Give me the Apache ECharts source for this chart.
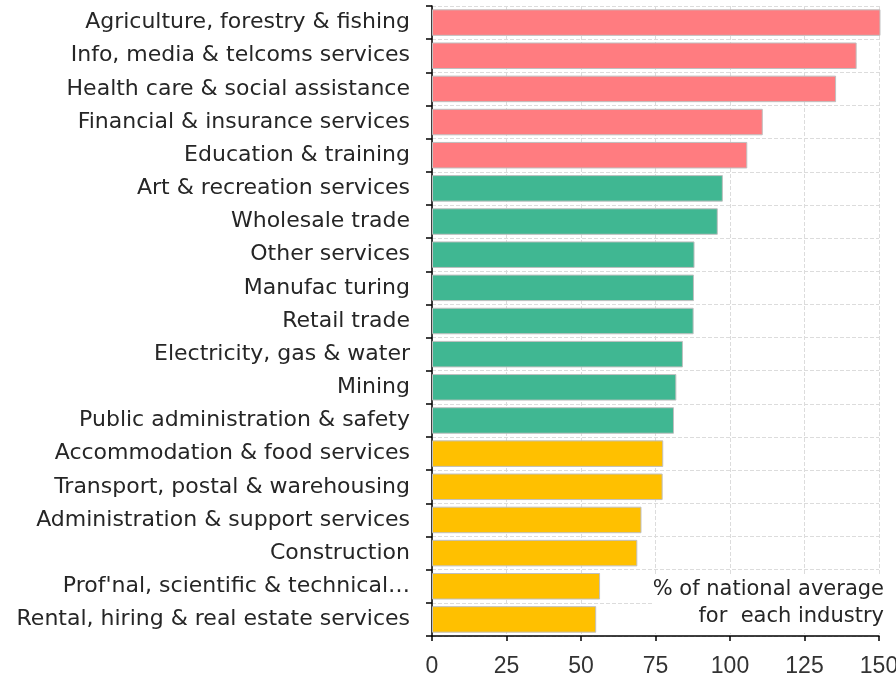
<!DOCTYPE html>
<html>
<head>
<meta charset="utf-8">
<script src="https://cdn.jsdelivr.net/npm/echarts@6/dist/echarts.min.js"></script>
<style>
  html, body { margin: 0; padding: 0; background: #ffffff; }
  #chart { width: 896px; height: 678px; }
</style>
</head>
<body>
<div id="chart"></div>
<script>
// Industries, top to bottom
const industries = [
  "Agriculture, forestry & fishing",
  "Info, media & telcoms services",
  "Health care & social assistance",
  "Financial & insurance services",
  "Education & training",
  "Art & recreation services",
  "Wholesale trade",
  "Other services",
  "Manufac turing",
  "Retail trade",
  "Electricity, gas & water",
  "Mining",
  "Public administration & safety",
  "Accommodation & food services",
  "Transport, postal & warehousing",
  "Administration & support services",
  "Construction",
  "Prof'nal, scientific & technical\u2026",
  "Rental, hiring & real estate services"
];

// % of national average for each industry
const shareOfNational = [
  150.5, 142.5, 135.6, 111.0, 105.8,
  97.6, 95.9, 88.1, 87.9, 87.8, 84.2, 82.0, 81.2,
  77.6, 77.4, 70.3, 68.9, 56.4, 55.1
];

// Band for each industry: above, around, or below average
const bands = [
  "high", "high", "high", "high", "high",
  "mid", "mid", "mid", "mid", "mid", "mid", "mid", "mid",
  "low", "low", "low", "low", "low", "low"
];

const xTicks = [0, 25, 50, 75, 100, 125, 150];

// Note in the lower right corner
const noteLines = ["% of national average", "for  each industry"];

const bandColors = { high: "#FF7C80", mid: "#40B792", low: "#FFC000" };
const LABEL_FONT = "DejaVu Sans";
const TICK_FONT = "Liberation Sans";

const chart = echarts.init(document.getElementById("chart"), null, { renderer: "canvas" });

chart.setOption({
  animation: false,
  backgroundColor: "#ffffff",
  grid: {
    left: 432, right: 17, top: 6, bottom: 42,
    containLabel: false,
    outerBoundsMode: "none"
  },
  xAxis: {
    type: "value",
    min: xTicks[0],
    max: xTicks[xTicks.length - 1],
    interval: 25,
    axisLine: { show: true, lineStyle: { color: "#000", width: 1.5 } },
    axisTick: { show: true, length: 5, lineStyle: { color: "#000", width: 1.5 } },
    axisLabel: { color: "#333", fontFamily: TICK_FONT, fontSize: 23, margin: 19 },
    splitLine: { show: true, lineStyle: { color: "#dcdcdc", type: "dashed", width: 1 } }
  },
  yAxis: {
    type: "category",
    inverse: true,
    data: industries,
    axisLine: { show: true, lineStyle: { color: "#000", width: 1.5 } },
    axisTick: { show: true, length: 6, alignWithLabel: false, lineStyle: { color: "#000", width: 1.5 } },
    axisLabel: { color: "#262626", fontFamily: LABEL_FONT, fontSize: 22, margin: 22, interval: 0 },
    splitLine: { show: true, interval: 0, lineStyle: { color: "#dcdcdc", type: "dashed", width: 1 } }
  },
  series: [{
    type: "bar",
    clip: false,
    barCategoryGap: "20%",
    data: shareOfNational.map((v, i) => ({
      value: v,
      itemStyle: { color: bandColors[bands[i]] }
    })),
    itemStyle: { borderColor: "#bfbfbf", borderWidth: 1 }
  }],
  graphic: [
    {
      type: "rect",
      shape: { x: 652, y: 574, width: 232, height: 59 },
      style: { fill: "#ffffff" },
      z: 10
    }
  ].concat(noteLines.map((line, i) => ({
    type: "text",
    x: 884,
    y: 590 + i * 27,
    style: {
      text: line,
      align: "right",
      verticalAlign: "middle",
      fill: "#262626",
      font: "21px '" + LABEL_FONT + "'"
    },
    z: 11
  })))
});
</script>
</body>
</html>
